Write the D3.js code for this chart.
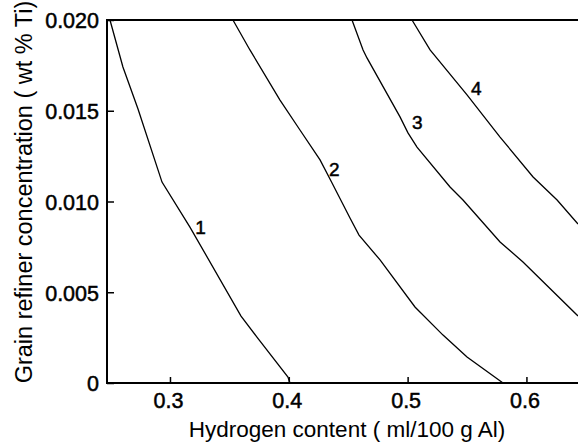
<!DOCTYPE html>
<html>
<head>
<meta charset="utf-8">
<script src="https://cdn.jsdelivr.net/npm/d3@7"></script>
<style>
  html, body { margin: 0; padding: 0; background: #fff; }
  svg { display: block; font-family: "Liberation Sans", Arial, sans-serif; }
</style>
</head>
<body>
<div id="chart"></div>
<script>
// Axis ticks
var xTicks = [0.3, 0.4, 0.5, 0.6],
    yTicks = [0, 0.005, 0.010, 0.015, 0.020],
    yTickLabels = ['0', '0.005', '0.010', '0.015', '0.020'];

// Curves: hydrogen content (x) vs grain refiner concentration (y)
var curve1X = [0.2495, 0.2604, 0.2731, 0.2933, 0.3168, 0.3598, 0.3732, 0.3993, 0.4010],
    curve1Y = [0.0200, 0.01741, 0.01510, 0.01107, 0.00859, 0.00369, 0.00253, 0.00033, 0];
var curve2X = [0.3530, 0.3673, 0.3926, 0.4094, 0.4263, 0.4364, 0.4515, 0.4591, 0.4768, 0.5062, 0.5298, 0.5500, 0.5803],
    curve2Y = [0.0200, 0.01835, 0.01559, 0.01394, 0.01229, 0.01102, 0.00909, 0.00815, 0.00678, 0.00419, 0.00264, 0.00143, 0];
var curve3X = [0.4532, 0.4625, 0.4658, 0.4936, 0.5003, 0.5079, 0.5357, 0.5466, 0.5778, 0.5971, 0.6434],
    curve3Y = [0.0200, 0.01835, 0.01791, 0.01466, 0.01378, 0.01300, 0.01080, 0.01008, 0.00777, 0.00667, 0.00369];
var curve4X = [0.5037, 0.5189, 0.5500, 0.5778, 0.6056, 0.6258, 0.6434],
    curve4Y = [0.0200, 0.01835, 0.01587, 0.01355, 0.01135, 0.01008, 0.00876];

// Curve labels, placed at (x, y) data positions
var curveNames = ['1', '2', '3', '4'],
    labelX = [0.3257, 0.4383, 0.5082, 0.5579],
    labelY = [0.00860, 0.01176, 0.01435, 0.01626];

var width = 578,
    height = 442,
    // plot box in pixels
    plotLeft = 107,
    plotRight = 578,
    plotTop = 20,
    plotBottom = 383;

var x = d3.scaleLinear().domain([0.2470, 0.6434]).range([plotLeft, plotRight]);
var y = d3.scaleLinear().domain([0, 0.020]).range([plotBottom, plotTop]);

var svg = d3.select('#chart').append('svg')
    .attr('width', width)
    .attr('height', height);

svg.append('defs').append('clipPath').attr('id', 'plot-clip')
    .append('rect')
    .attr('x', plotLeft).attr('y', plotTop - 1)
    .attr('width', plotRight - plotLeft).attr('height', plotBottom - plotTop + 2);

// Left axis, ticks pointing inward
var yAxis = d3.axisRight(y)
    .tickValues(yTicks)
    .tickSize(7)
    .tickFormat(function(d, i) { return yTickLabels[i]; });

var gy = svg.append('g')
    .attr('transform', 'translate(' + plotLeft + ',0)')
    .call(yAxis);
gy.select('.domain').remove();
gy.selectAll('.tick line').attr('stroke', '#000').attr('stroke-width', 1.5);
gy.selectAll('.tick text')
    .attr('x', -8)
    .attr('dy', '0.36em')
    .attr('text-anchor', 'end')
    .attr('font-size', 21.5)
    .attr('fill', '#000')
    .attr('stroke', '#000')
    .attr('stroke-width', 0.5);

// Bottom axis, ticks pointing inward
var xAxis = d3.axisTop(x)
    .tickValues(xTicks)
    .tickSize(6)
    .tickFormat(d3.format('.1f'));

var gx = svg.append('g')
    .attr('transform', 'translate(0,' + plotBottom + ')')
    .call(xAxis);
gx.select('.domain').remove();
gx.selectAll('.tick line').attr('stroke', '#000').attr('stroke-width', 1.5);
gx.selectAll('.tick text')
    .attr('y', 25)
    .attr('dx', -2)
    .attr('dy', 0)
    .attr('text-anchor', 'middle')
    .attr('font-size', 21.5)
    .attr('fill', '#000')
    .attr('stroke', '#000')
    .attr('stroke-width', 0.5);

// Frame: left, bottom and top lines (no right edge)
svg.append('path')
    .attr('d', 'M' + plotRight + ',' + plotTop + 'H' + plotLeft + 'V' + plotBottom + 'H' + plotRight)
    .attr('fill', 'none')
    .attr('stroke', '#000')
    .attr('stroke-width', 2);

// Curves
var curves = [[curve1X, curve1Y], [curve2X, curve2Y], [curve3X, curve3Y], [curve4X, curve4Y]];
var line = d3.line()
    .x(function(d) { return x(d[0]); })
    .y(function(d) { return y(d[1]); });

svg.append('g').attr('clip-path', 'url(#plot-clip)')
    .selectAll('path').data(curves).enter()
    .append('path')
    .attr('d', function(c) { return line(d3.zip(c[0], c[1])); })
    .attr('fill', 'none')
    .attr('stroke', '#000')
    .attr('stroke-width', 1.3);

svg.selectAll('text.curve-label').data(curveNames).enter()
    .append('text')
    .attr('class', 'curve-label')
    .attr('x', function(d, i) { return x(labelX[i]); })
    .attr('y', function(d, i) { return y(labelY[i]); })
    .attr('dy', '0.36em')
    .attr('text-anchor', 'middle')
    .attr('font-size', 19)
    .attr('fill', '#000')
    .attr('stroke', '#000')
    .attr('stroke-width', 0.5)
    .text(function(d) { return d; });

// Axis titles
svg.append('text')
    .attr('x', 347)
    .attr('y', 437)
    .attr('text-anchor', 'middle')
    .attr('font-size', 22.5)
    .attr('fill', '#000')
    .text('Hydrogen content ( ml/100 g Al)');

svg.append('text')
    .attr('transform', 'translate(32,' + 192 + ') rotate(-90)')
    .attr('text-anchor', 'middle')
    .attr('font-size', 23.5)
    .attr('fill', '#000')
    .text('Grain refiner concentration ( wt % Ti)');
</script>
</body>
</html>
